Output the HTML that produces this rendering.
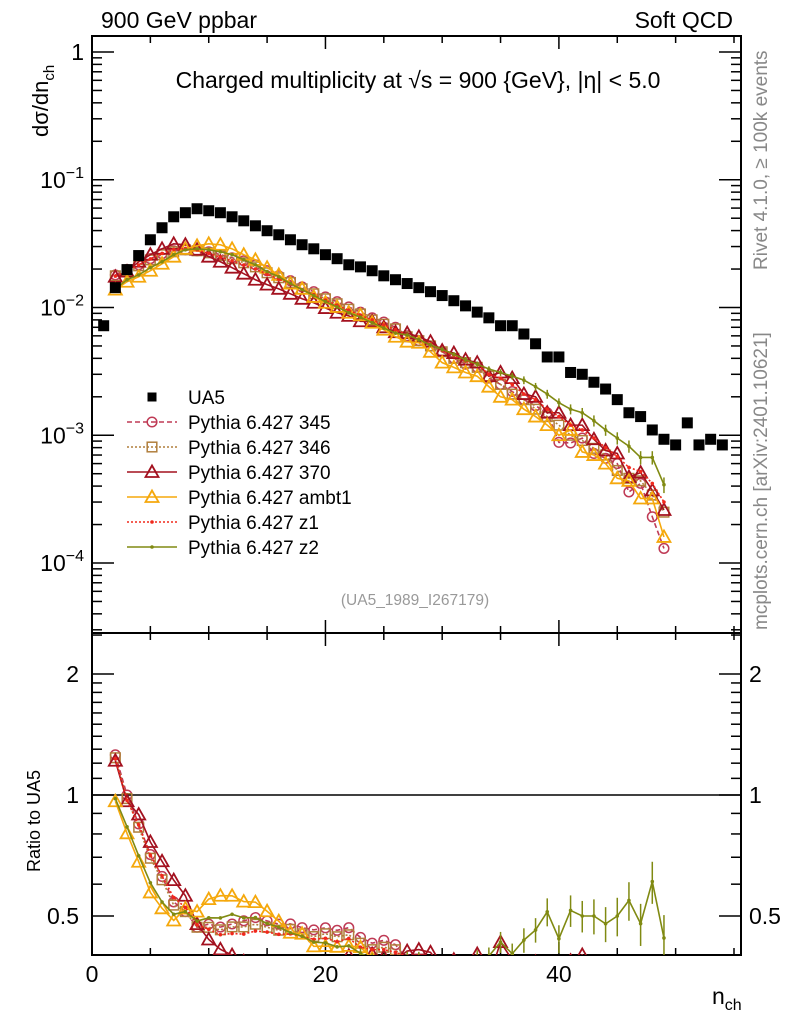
<!DOCTYPE html>
<html><head><meta charset="utf-8">
<style>
html,body{margin:0;padding:0;background:#fff;overflow:hidden;width:786px;height:1024px;}
svg{display:block;font-family:"Liberation Sans",sans-serif;}
</style></head>
<body>
<svg id="chart" width="786" height="1024" viewBox="0 0 786 1024" xmlns="http://www.w3.org/2000/svg">
<defs>
<clipPath id="clipTop"><rect x="92" y="36" width="649" height="597"/></clipPath>
<clipPath id="clipBot"><rect x="92" y="633" width="649" height="322"/></clipPath>
</defs>
<text x="101" y="28" font-size="23">900 GeV ppbar</text>
<text x="733" y="28" font-size="23" text-anchor="end">Soft QCD</text>
<text x="418" y="88" font-size="23" text-anchor="middle">Charged multiplicity at √s = 900 {GeV}, |η| &lt; 5.0</text>
<text transform="translate(48,137) rotate(-90)" font-size="22">dσ/dn<tspan font-size="15" dy="6">ch</tspan></text>
<text transform="translate(40,872) rotate(-90)" font-size="18">Ratio to UA5</text>
<text x="712" y="1004" font-size="23">n<tspan font-size="16" dy="6">ch</tspan></text>
<text transform="translate(767,270) rotate(-90)" font-size="19" fill="#888">Rivet 4.1.0, ≥ 100k events</text>
<text transform="translate(767,630) rotate(-90)" font-size="19" fill="#888">mcplots.cern.ch [arXiv:2401.10621]</text>
<text x="415" y="605" font-size="15.5" fill="#999" text-anchor="middle">(UA5_1989_I267179)</text>
<g id="axes"></g>
<g id="series" clip-path="url(#clipTop)"></g>
<g id="ratio" clip-path="url(#clipBot)"></g>
<g id="legend"></g>
</svg>
<script>
const ua5N = [1,2,3,4,5,6,7,8,9,10,11,12,13,14,15,16,17,18,19,20,21,22,23,24,25,26,27,28,29,30,31,32,33,34,35,36,37,38,39,40,41,42,43,44,45,46,47,48,49,50,51,52,53,54];
const ua5 = [0.0072,0.0143,0.0198,0.0255,0.0339,0.0421,0.0513,0.0552,0.0593,0.0572,0.0552,0.0513,0.0477,0.0436,0.0399,0.0371,0.0339,0.0310,0.0288,0.0259,0.0241,0.0216,0.0208,0.0194,0.0177,0.0165,0.0154,0.0143,0.0133,0.0124,0.0113,0.0103,0.0092,0.0083,0.0072,0.0072,0.0062,0.0052,0.0041,0.0041,0.0031,0.0030,0.0026,0.0023,0.0019,0.0015,0.0014,0.0011,0.00093,0.00084,0.00125,0.00084,0.00093,0.00084];
const mcN = [2,3,4,5,6,7,8,9,10,11,12,13,14,15,16,17,18,19,20,21,22,23,24,25,26,27,28,29,30,31,32,33,34,35,36,37,38,39,40,41,42,43,44,45,46,47,48,49];
const p345 = [0.0180,0.0198,0.0216,0.0241,0.0264,0.0278,0.0283,0.0278,0.0273,0.0259,0.0245,0.0232,0.0216,0.0194,0.0177,0.0162,0.0145,0.0133,0.0121,0.0111,0.0101,0.0092,0.0083,0.0077,0.0070,0.0060,0.0055,0.0050,0.0045,0.0040,0.0036,0.0034,0.0028,0.0025,0.0022,0.0019,0.0017,0.0015,0.00088,0.00087,0.00095,0.00072,0.00066,0.00060,0.00036,0.00042,0.00023,0.00013];
const p346 = [0.0177,0.0194,0.0212,0.0236,0.0259,0.0273,0.0283,0.0278,0.0268,0.0255,0.0241,0.0224,0.0208,0.0187,0.0171,0.0157,0.0140,0.0128,0.0117,0.0107,0.0097,0.0089,0.0080,0.0074,0.0068,0.0059,0.0055,0.0050,0.0045,0.0040,0.0037,0.0034,0.0029,0.0025,0.0021,0.0019,0.0016,0.0014,0.0012,0.0010,0.00091,0.00079,0.00070,0.00053,0.00046,0.00044,0.00034,0.00025];
const p370 = [0.0174,0.0191,0.0228,0.0259,0.0288,0.0315,0.0310,0.0283,0.0250,0.0228,0.0205,0.0184,0.0165,0.0151,0.0140,0.0128,0.0117,0.0109,0.0099,0.0091,0.0086,0.0078,0.0078,0.0070,0.0064,0.0063,0.0059,0.0054,0.0046,0.0044,0.0039,0.0037,0.0029,0.0031,0.0028,0.0021,0.0020,0.0015,0.0015,0.0012,0.0012,0.00093,0.00076,0.00072,0.00047,0.00051,0.00037,0.00026];
const pAmbt1 = [0.0138,0.0159,0.0174,0.0194,0.0220,0.0250,0.0288,0.0304,0.0315,0.0310,0.0288,0.0259,0.0236,0.0205,0.0180,0.0154,0.0140,0.0121,0.0109,0.0101,0.0091,0.0087,0.0076,0.0067,0.0059,0.0054,0.0053,0.0045,0.0037,0.0034,0.0031,0.0029,0.0024,0.0020,0.0019,0.0016,0.0014,0.0012,0.0010,0.0011,0.00074,0.00070,0.00060,0.00046,0.00044,0.00032,0.00032,0.00016];
const pZ1 = [0.0176,0.0192,0.0215,0.0240,0.0265,0.0285,0.0290,0.0282,0.0265,0.0248,0.0232,0.0215,0.0200,0.0182,0.0167,0.0153,0.0138,0.0126,0.0114,0.0104,0.0095,0.0087,0.0080,0.0073,0.0067,0.0061,0.0056,0.0052,0.0046,0.0042,0.0038,0.0036,0.0030,0.0028,0.0025,0.0021,0.0019,0.0016,0.0014,0.0012,0.0011,0.00095,0.00080,0.00068,0.00056,0.00052,0.00042,0.00030];
const pZ2 = [0.0140,0.0165,0.0180,0.0205,0.0228,0.0259,0.0283,0.0288,0.0283,0.0273,0.0259,0.0236,0.0216,0.0191,0.0174,0.0154,0.0138,0.0124,0.0111,0.0101,0.0091,0.0084,0.0076,0.0069,0.0063,0.0061,0.0056,0.0051,0.0047,0.0043,0.0039,0.0036,0.0033,0.0031,0.0029,0.0027,0.0024,0.0021,0.0018,0.0016,0.0015,0.0013,0.0011,0.00095,0.00082,0.00067,0.00067,0.00041];
const z2RelErr = [0.01,0.01,0.01,0.01,0.01,0.01,0.01,0.01,0.01,0.01,0.01,0.01,0.01,0.01,0.02,0.02,0.02,0.02,0.02,0.02,0.02,0.03,0.03,0.03,0.03,0.03,0.04,0.04,0.04,0.04,0.05,0.05,0.05,0.06,0.06,0.07,0.07,0.08,0.08,0.09,0.09,0.10,0.10,0.11,0.11,0.12,0.12,0.14];
const xTicks = [0,20,40];
const yDecades = [0,-1,-2,-3,-4];
const rTicks = [0.5,1,2];

const NS="http://www.w3.org/2000/svg";
const X0=92,X1=741,XMAX=55.6;
const sx=n=>X0+(X1-X0)*n/XMAX;
const sy=v=>52-127.75*Math.log10(v);
const sr=r=>795-121*Math.log2(r);
function mk(tag,attrs,parent){const e=document.createElementNS(NS,tag);for(const k in attrs)e.setAttribute(k,attrs[k]);parent.appendChild(e);return e;}
const axes=document.getElementById('axes');
const ser=document.getElementById('series');
const rat=document.getElementById('ratio');
const leg=document.getElementById('legend');

let f1=mk('rect',{x:X0,y:36,width:X1-X0,height:597,fill:'none',stroke:'#000','stroke-width':2},axes);


let f2=mk('rect',{x:X0,y:633,width:X1-X0,height:322,fill:'none',stroke:'#000','stroke-width':2},axes);


for(let n=0;n<=XMAX;n+=5){
  const x=sx(n);const major=xTicks.includes(n);const L=major?13:7;
  [[36,1],[633,-1],[633,1],[955,-1]].forEach(([y,d])=>{
    const t=mk('line',{x1:x,x2:x,y1:y,y2:y+d*L,stroke:'#000','stroke-width':1.5},axes);
    
    
  });
}
xTicks.forEach(n=>{
  const t=mk('text',{x:sx(n),y:982,'font-size':23,'text-anchor':'middle'},axes);t.textContent=n;
  
  
});
for(let d=1;d>=-5;d--){
  for(let m=1;m<10;m++){
    const v=m*Math.pow(10,d-1);const y=sy(v);
    if(y<37||y>632)continue;const L=m===1?22:10;
    [[X0,1],[X1,-1]].forEach(([x,s])=>{
      const t=mk('line',{x1:x,x2:x+s*L,y1:y,y2:y,stroke:'#000','stroke-width':1.5},axes);
      
      
    });
  }
}
yDecades.forEach(d=>{
  const t=mk('text',{x:84,y:sy(Math.pow(10,d))+8,'font-size':23,'text-anchor':'end'},axes);
  if(d===0){t.textContent='1';}else{t.textContent='10';const s=mk('tspan',{dy:-10,'font-size':16},t);s.textContent='−'+(-d);}
  
  
});
[0.4,0.5,0.6,0.7,0.8,0.9,1,1.1,1.2,1.3,1.4,1.5,1.6,1.7,1.8,1.9,2,2.5].forEach(r=>{
  const y=sr(r);if(y<634||y>954)return;const L=rTicks.includes(r)?22:10;
  [[X0,1],[X1,-1]].forEach(([x,s])=>{
    const t=mk('line',{x1:x,x2:x+s*L,y1:y,y2:y,stroke:'#000','stroke-width':1.5},axes);
    
    
  });
});
rTicks.forEach(r=>{
  const t=mk('text',{x:79,y:sr(r)+8,'font-size':23,'text-anchor':'end'},axes);t.textContent=r;
  
  
  const t2=mk('text',{x:749,y:sr(r)+8,'font-size':23},axes);t2.textContent=r;
  
  
});
let one=mk('line',{x1:X0,x2:X1,y1:sr(1),y2:sr(1),stroke:'#000','stroke-width':1.5},axes);



function marker(kind,color,x,y,parent){
  let e;
  if(kind==='circle')e=mk('circle',{cx:x,cy:y,r:4.8,fill:'none',stroke:color,'stroke-width':1.5},parent);
  else if(kind==='square')e=mk('rect',{x:x-4.8,y:y-4.8,width:9.6,height:9.6,fill:'none',stroke:color,'stroke-width':1.5},parent);
  else if(kind==='tri')e=mk('polygon',{points:`${x},${y-6.5} ${x-6.5},${y+5} ${x+6.5},${y+5}`,fill:'none',stroke:color,'stroke-width':1.8},parent);
  else if(kind==='dot')e=mk('circle',{cx:x,cy:y,r:1.8,fill:color},parent);
  else if(kind==='fsq')e=mk('rect',{x:x-5.5,y:y-5.5,width:11,height:11,fill:color},parent);
  return e;
}
const seriesDefs=[
  {name:'pythia-345',label:'Pythia 6.427 345',data:p345,color:'#bf3a55',dash:'5,3',mk:'circle'},
  {name:'pythia-346',label:'Pythia 6.427 346',data:p346,color:'#b07f3c',dash:'2,2',mk:'square'},
  {name:'pythia-370',label:'Pythia 6.427 370',data:p370,color:'#a3111f',dash:'',mk:'tri'},
  {name:'pythia-ambt1',label:'Pythia 6.427 ambt1',data:pAmbt1,color:'#f5a80c',dash:'',mk:'tri'},
  {name:'pythia-z1',label:'Pythia 6.427 z1',data:pZ1,color:'#f0281c',dash:'2,2',mk:'dot'},
  {name:'pythia-z2',label:'Pythia 6.427 z2',data:pZ2,color:'#808a12',dash:'',mk:'dot'}
];
function ua5At(n){const i=ua5N.indexOf(n);return i>=0?ua5[i]:null;}
seriesDefs.forEach(s=>{
  const g=mk('g',{},ser);
  
  
  const pts=s.data.map((v,i)=>[sx(mcN[i]),sy(v)]);
  const pl=mk('polyline',{points:pts.map(p=>p.join(',')).join(' '),fill:'none',stroke:s.color,'stroke-width':1.6,'stroke-dasharray':s.dash},g);
  
  
  if(s.name==='pythia-z2'){
    s.data.forEach((v,i)=>{const e=z2RelErr[i];if(e<0.03)return;
      const b=mk('line',{x1:sx(mcN[i]),x2:sx(mcN[i]),y1:sy(v*(1+e)),y2:sy(v*(1-e)),stroke:s.color,'stroke-width':1.5},g);
      
      });
  }
  pts.forEach(p=>{const m=marker(s.mk,s.color,p[0],p[1],g);
    
    });
  const rg=mk('g',{},rat);
  
  
  const rp=[];
  s.data.forEach((v,i)=>{const u=ua5At(mcN[i]);if(u)rp.push([sx(mcN[i]),sr(v/u),i]);});
  const rl=mk('polyline',{points:rp.map(p=>p[0]+','+p[1]).join(' '),fill:'none',stroke:s.color,'stroke-width':1.6,'stroke-dasharray':s.dash},rg);
  
  
  if(s.name==='pythia-z2'){
    rp.forEach(p=>{const e=z2RelErr[p[2]];const r=s.data[p[2]]/ua5At(mcN[p[2]]);if(e<0.03)return;
      const b=mk('line',{x1:p[0],x2:p[0],y1:sr(r*(1+e)),y2:sr(r*(1-e)),stroke:s.color,'stroke-width':1.5},rg);
      
      });
  }
  rp.forEach(p=>{const m=marker(s.mk,s.color,p[0],p[1],rg);
    
    });
});
const ug=mk('g',{},ser);


ua5.forEach((v,i)=>{const m=marker('fsq','#000',sx(ua5N[i]),sy(v),ug);
  
  });

const ly0=397,ldy=25;
[{label:'UA5',color:'#000',mk:'fsq',dash:null,name:'ua5'}].concat(seriesDefs).forEach((s,i)=>{
  const y=ly0+i*ldy;
  const g=mk('g',{},leg);
  
  
  if(s.dash!==null){const l=mk('line',{x1:127,x2:177,y1:y,y2:y,stroke:s.color,'stroke-width':1.6,'stroke-dasharray':s.dash},g);
    
    }
  const m=marker(s.mk,s.color,152,y,g);
  if(s.mk==='fsq'){m.setAttribute('width',9);m.setAttribute('height',9);m.setAttribute('x',147.5);m.setAttribute('y',y-4.5);}
  
  
  const t=mk('text',{x:188,y:y+7,'font-size':19},g);t.textContent=s.label;
  
  
});
</script>
</body></html>
